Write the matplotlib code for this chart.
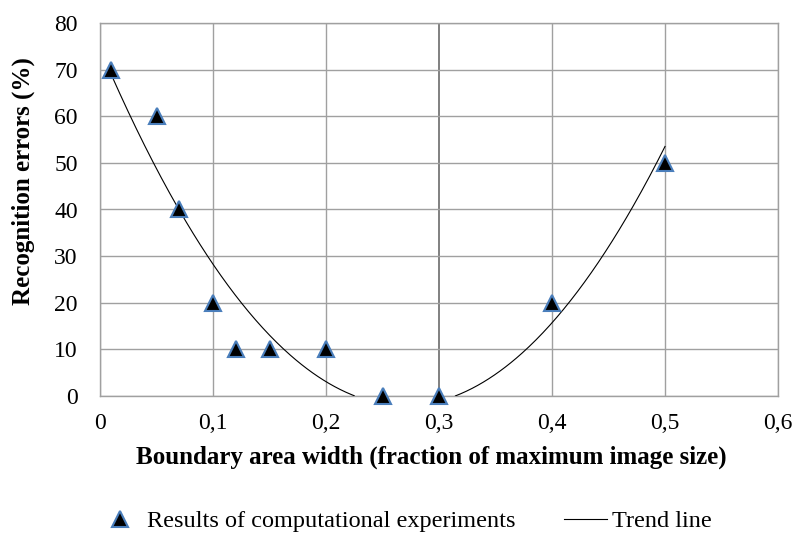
import numpy as np
import matplotlib.pyplot as plt
from matplotlib.lines import Line2D

width = [0.01, 0.05, 0.07, 0.10, 0.12, 0.15, 0.20, 0.25, 0.30, 0.40, 0.50]
errors = [70, 60, 40, 20, 10, 10, 10, 0, 0, 20, 50]

x_ticks = [0, 0.1, 0.2, 0.3, 0.4, 0.5, 0.6]
x_tick_labels = ["0", "0,1", "0,2", "0,3", "0,4", "0,5", "0,6"]
y_ticks = [0, 10, 20, 30, 40, 50, 60, 70, 80]

plt.rcParams['font.family'] = ['Liberation Serif', 'DejaVu Serif']

fig = plt.figure(figsize=(7.93, 5.34), dpi=100)
ax = fig.add_axes([100/793, 138/534, 678/793, 373/534])

# polynomial trend line (2nd order), only shown above zero like the original
coef = np.polyfit(width, errors, 2)
xs = np.linspace(min(width), max(width), 400)
ys = np.polyval(coef, xs)
ys[ys < 0] = np.nan
ax.plot(xs, ys, color='black', lw=0.8, zorder=3)

ax.plot(width, errors, linestyle='none', marker='^', markersize=11,
        markerfacecolor='black', markeredgecolor='#4a7ebb', markeredgewidth=1.5,
        zorder=4, clip_on=False)

ax.set_xlim(0, 0.6)
ax.set_ylim(0, 80)
ax.set_xticks(x_ticks)
ax.set_xticklabels(x_tick_labels)
ax.set_yticks(y_ticks)
ax.tick_params(length=0, labelsize=17)
ax.tick_params(axis='y', pad=16)
ax.tick_params(axis='x', pad=12)

ax.grid(True, color='#a0a0a0', lw=1.0)
ax.get_xgridlines()[3].set_color('#808080')
ax.get_xgridlines()[3].set_linewidth(1.4)
ax.set_axisbelow(True)
for s in ax.spines.values():
    s.set_color('#a0a0a0')
    s.set_linewidth(1.0)

ax.set_xlabel('Boundary area width (fraction of maximum image size)',
              fontsize=18, fontweight='bold')
ax.xaxis.set_label_coords((431 - 100) / 678, -(446 - 396) / 373)
ax.set_ylabel('Recognition errors (%)', fontsize=18, fontweight='bold')
ax.yaxis.set_label_coords(-(100 - 35) / 678, (396 - 181) / 373)

handles = [
    Line2D([], [], linestyle='none', marker='^', markersize=11,
           markerfacecolor='black', markeredgecolor='#4a7ebb', markeredgewidth=1.5),
    Line2D([], [], color='black', lw=0.8),
]
fig.legend(handles, ['Results of computational experiments', 'Trend line'],
           loc='center left', bbox_to_anchor=(98 / 793, 13 / 534), ncol=2,
           frameon=False, borderpad=0, borderaxespad=0,
           fontsize=17.5, handlelength=1.77, handletextpad=0.23, columnspacing=2.0)

fig.savefig('out.png', dpi=100)
